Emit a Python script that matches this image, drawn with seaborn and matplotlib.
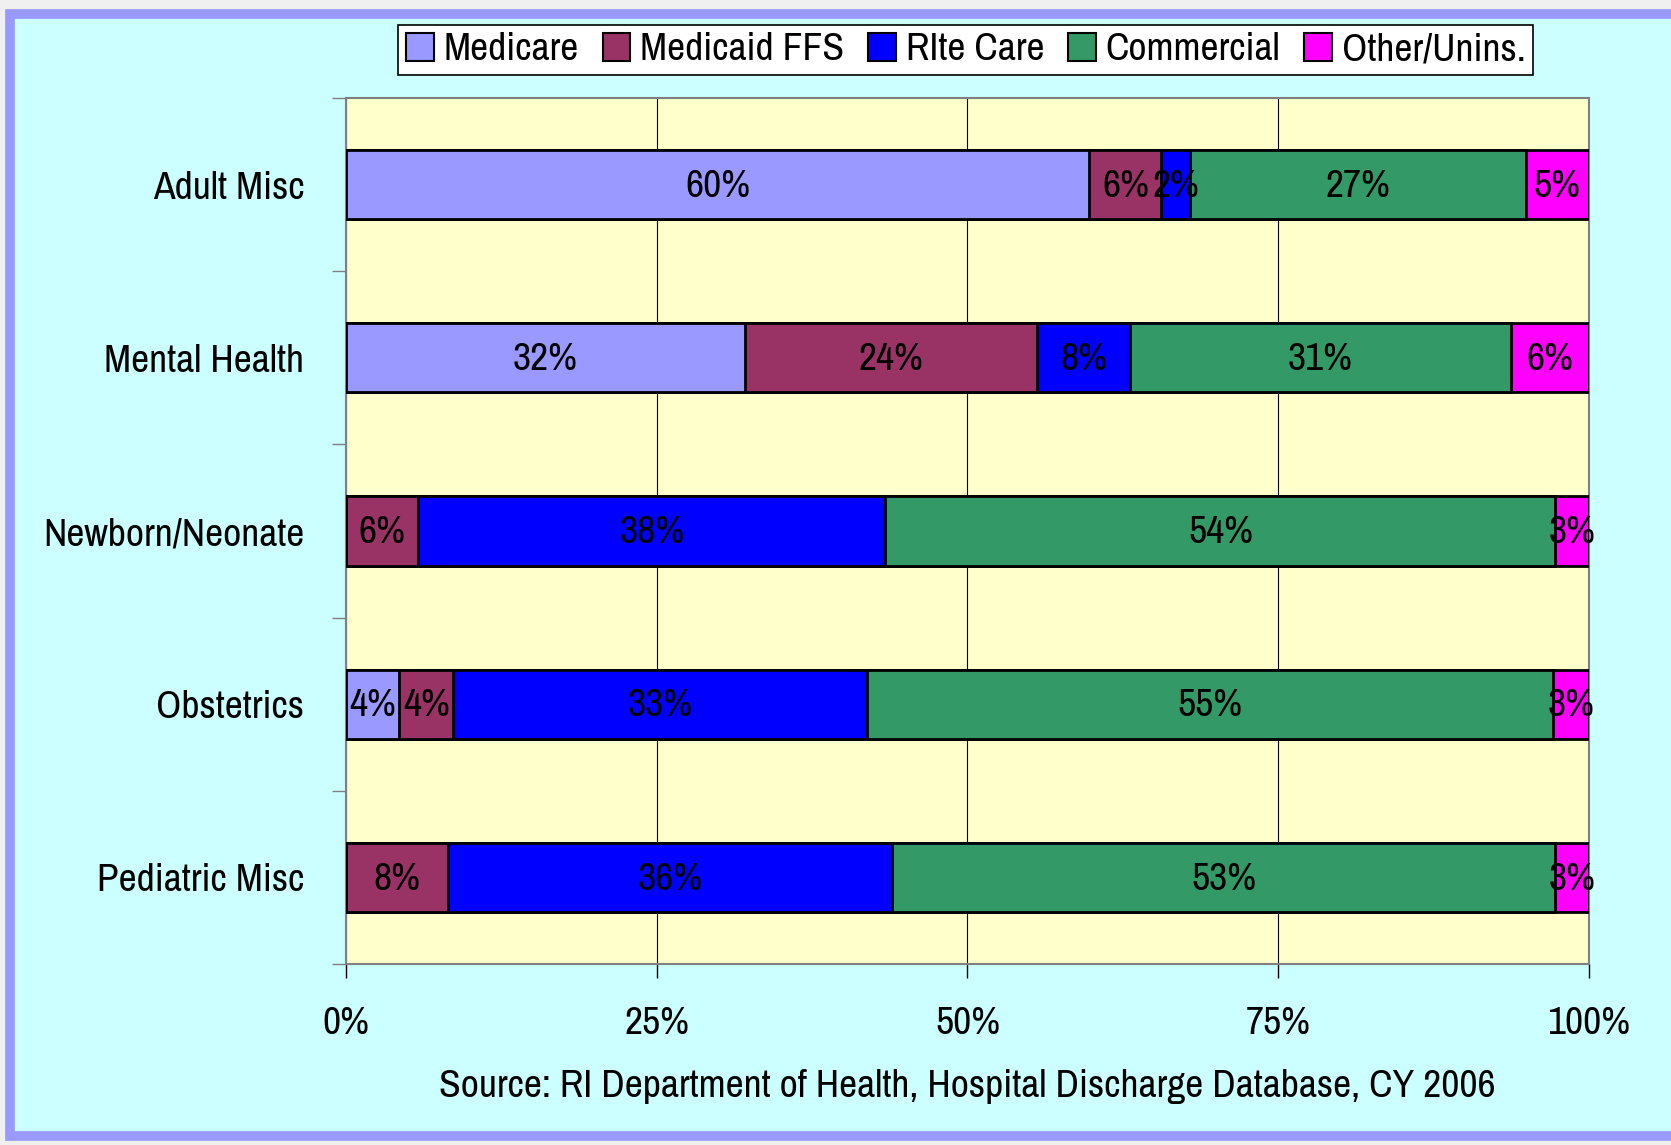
import matplotlib
matplotlib.use("Agg")
import matplotlib.pyplot as plt
import seaborn as sns
import numpy as np
import pandas as pd
from matplotlib.patches import Rectangle, Patch
from matplotlib import font_manager

categories = ["Adult Misc", "Mental Health", "Newborn/Neonate", "Obstetrics", "Pediatric Misc"]
series = ["Medicare", "Medicaid FFS", "RIte Care", "Commercial", "Other/Unins."]
medicare = [59.8, 32.1, 0.0, 4.3, 0.0]
medicaid = [5.8, 23.5, 5.8, 4.3, 8.2]
rite = [2.3, 7.5, 37.6, 33.3, 35.7]
commercial = [27.0, 30.6, 53.9, 55.2, 53.4]
other = [5.1, 6.3, 2.7, 2.9, 2.7]
xticks = [0, 25, 50, 75, 100]
xticklabels = ["0%", "25%", "50%", "75%", "100%"]
source = "Source: RI Department of Health, Hospital Discharge Database, CY 2006"

colors = ["#9999FF", "#993366", "#0000FF", "#339966", "#FF00FF"]

installed = {f.name for f in font_manager.fontManager.ttflist}
candidates = ["Archivo Narrow", "PT Sans Narrow", "Roboto Condensed", "Liberation Sans"]
family = [c for c in candidates if c in installed] + ["DejaVu Sans"]

sns.set_theme(style="white")
plt.rcParams["font.family"] = family
plt.rcParams["font.weight"] = "medium"
plt.rcParams["text.color"] = "black"
plt.rcParams["xtick.color"] = "black"
plt.rcParams["ytick.color"] = "black"

FS = 28.5

fig = plt.figure(figsize=(16.71, 11.45), dpi=100, facecolor="#F0F0F0")
bg = fig.add_axes([0, 0, 1, 1], zorder=-10)
bg.set_xlim(0, 1671)
bg.set_ylim(1145, 0)
bg.axis("off")
bg.add_patch(Rectangle((10, 14), 1700, 1122, facecolor="#CCFFFF", edgecolor="#9999FF", linewidth=7))

ax = fig.add_axes([346 / 1671, 1 - 964 / 1145, (1589 - 346) / 1671, (964 - 98) / 1145])
ax.set_facecolor("#FFFFCC")

vals = np.array([medicare, medicaid, rite, commercial, other])
cum = np.cumsum(vals, axis=0)

for i in range(len(series) - 1, -1, -1):
    df = pd.DataFrame({"cat": categories, "val": cum[i]})
    sns.barplot(data=df, y="cat", x="val", order=categories, orient="h", color=colors[i],
                width=0.4, edgecolor="black", linewidth=2, ax=ax, saturation=1, zorder=3)

for i in range(len(series)):
    for j in range(len(categories)):
        v = vals[i, j]
        if v <= 0.5:
            continue
        center = cum[i, j] - v / 2
        ax.text(center, j + 0.01, f"{int(round(v))}%", ha="center", va="center", fontsize=FS,
                color="black", zorder=5)

ax.set_xlim(0, 100)
ax.set_ylim(len(categories) - 0.5, -0.5)
ax.set_xticks(xticks)
ax.set_xticklabels(xticklabels, fontsize=FS)
ax.tick_params(axis="x", direction="out", length=10, width=1, color="black", pad=20, bottom=True)
ax.set_yticks(np.arange(-0.5, len(categories), 1.0))
ax.set_yticklabels([])
ax.tick_params(axis="y", which="major", direction="out", length=10, width=1, color="#808080", left=True)
ax.set_yticks(range(len(categories)), minor=True)
ax.set_yticklabels(categories, minor=True, fontsize=FS)
ax.tick_params(axis="y", which="minor", length=0, pad=30)
ax.set_xlabel("")
ax.set_ylabel("")
ax.xaxis.grid(True, color="black", linewidth=0.8)
ax.set_axisbelow(True)
for s in ax.spines.values():
    s.set_color("#808080")
    s.set_linewidth(1.5)

handles = [Patch(facecolor=c, edgecolor="black", linewidth=1.5, label=s) for c, s in zip(colors, series)]
leg = fig.legend(handles=handles, loc="center", bbox_to_anchor=(0.578, 1 - 50 / 1145), ncol=5,
                 fontsize=FS, frameon=True, fancybox=False, edgecolor="black",
                 handlelength=0.7, handleheight=0.7, handletextpad=0.25, columnspacing=0.6,
                 borderpad=0.2, borderaxespad=0)
leg.get_frame().set_linewidth(1.2)
leg.get_frame().set_facecolor("white")
leg.get_frame().set_alpha(1)

fig.text(967 / 1671, 1 - 1087 / 1145, source, ha="center", va="center", fontsize=FS)

fig.savefig("out.png", dpi=100, facecolor=fig.get_facecolor())
